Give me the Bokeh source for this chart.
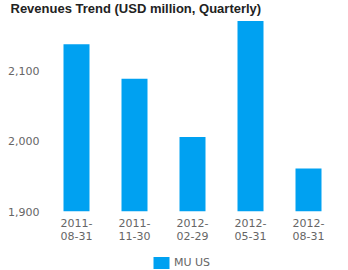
from bokeh.plotting import figure
from bokeh.layouts import column
from bokeh.models import Legend, LegendItem, NumeralTickFormatter, FixedTicker, Title
from bokeh.embed import file_html
from bokeh.resources import INLINE

title_text = "Revenues Trend (USD million, Quarterly)"
categories = ["2011-\n08-31", "2011-\n11-30", "2012-\n02-29", "2012-\n05-31", "2012-\n08-31"]
revenues = [2138, 2089, 2006, 2171, 1961]
series_name = "MU US"
y_ticks = [1900, 2000, 2100]
bar_color = "#00a1f1"

p = figure(x_range=categories, y_range=(1900, 2176), frame_width=290, frame_height=194,
           output_backend="svg", toolbar_location=None, title=None,
           min_border_left=47, min_border_right=11, min_border_top=17, min_border_bottom=44)
p.outline_line_color = None
p.xgrid.grid_line_color = None
p.ygrid.grid_line_color = None

r = p.vbar(x=categories, top=revenues, bottom=1900, width=26/58, color=bar_color, line_color=None)

p.yaxis.ticker = FixedTicker(ticks=y_ticks)
p.yaxis.formatter = NumeralTickFormatter(format="0,0")
for ax in (p.xaxis, p.yaxis):
    ax.axis_line_color = None
    ax.major_tick_line_color = None
    ax.minor_tick_line_color = None
    ax.major_tick_out = 0
    ax.major_tick_in = 0
    ax.major_label_text_font = "DejaVu Sans"
    ax.major_label_text_font_size = "11px"
    ax.major_label_text_color = "#666666"
p.yaxis.major_label_standoff = 8
p.xaxis.major_label_standoff = 5
p.xaxis.major_label_text_line_height = 1.0

t = Title(text=title_text, align="left", vertical_align="top", offset=-37, standoff=0,
          text_font="Liberation Sans", text_font_style="bold", text_font_size="13px",
          text_color="#222222")
p.add_layout(t, "above")

# legend strip below the chart (its frame is aligned with the chart's frame)
lp = figure(width=348, height=15, output_backend="svg", toolbar_location=None,
            x_axis_type=None, y_axis_type=None,
            min_border_left=0, min_border_right=0, min_border_top=0, min_border_bottom=0)
lp.outline_line_color = None
lp.grid.visible = False
lr = lp.vbar(x=[0], bottom=[0], top=[0], width=0, color=bar_color, line_color=None)
legend = Legend(items=[LegendItem(label=series_name, renderers=[lr])],
                location=(104, 0), orientation="horizontal",
                glyph_width=20, glyph_height=15, label_height=15,
                label_standoff=3, padding=0, margin=0, spacing=0,
                border_line_color=None, background_fill_alpha=0,
                label_text_font="DejaVu Sans", label_text_font_size="11px",
                label_text_color="#666666")
lp.add_layout(legend, "center")

open("out.html", "w").write(file_html(column(p, lp, spacing=0), INLINE))
